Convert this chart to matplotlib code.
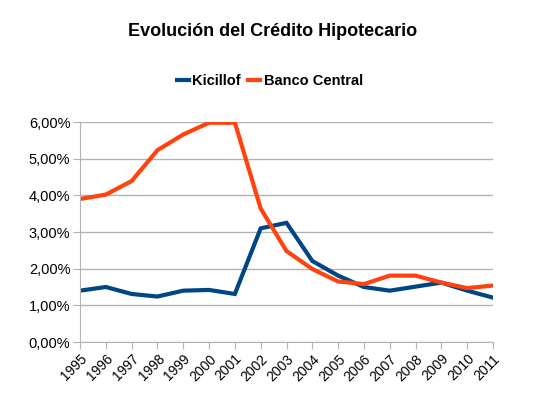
import matplotlib
matplotlib.use("Agg")
from matplotlib import pyplot as plt
from matplotlib.ticker import FuncFormatter

# Datos.
years = list(range(1995, 2012))
kicillof = [1.40, 1.50, 1.31, 1.24, 1.40, 1.42, 1.31, 3.10, 3.25, 2.21,
            1.81, 1.50, 1.40, 1.51, 1.62, 1.40, 1.21]
banco_central = [3.90, 4.02, 4.39, 5.23, 5.66, 5.98, 5.98, 3.64, 2.48, 1.99,
                 1.65, 1.58, 1.81, 1.81, 1.62, 1.47, 1.54]

plt.rcParams['font.family'] = ['Liberation Sans', 'DejaVu Sans']

fig = plt.figure(figsize=(5.45, 3.97), dpi=100)
ax = fig.add_axes([80 / 545, 1 - 342 / 397, 413 / 545, 220 / 397])

ax.plot(years, kicillof, c='#004586', lw=3, label='Kicillof', solid_joinstyle='miter')
ax.plot(years, banco_central, c='#ff420e', lw=3, label='Banco Central', solid_joinstyle='miter')

ax.set_xlim(1995, 2011)
ax.set_ylim(0, 6)
ax.set_xticks(years)
ax.set_xticklabels([str(y) for y in years], rotation=45, ha='right',
                   rotation_mode='anchor', fontsize=10)
ax.set_yticks(range(0, 7))
ax.yaxis.set_major_formatter(FuncFormatter(lambda v, p: f"{v:.2f}".replace('.', ',') + '%'))
ax.tick_params(axis='y', labelsize=10.5, length=5, color='#b3b3b3', pad=2)
ax.tick_params(axis='x', length=5, color='#b3b3b3', pad=2)

# Cuadrícula horizontal.
ax.grid(True, axis='y', color='#b3b3b3', lw=1)
ax.set_axisbelow(True)
for s in ['top', 'right']:
    ax.spines[s].set_visible(False)
for s in ['left', 'bottom']:
    ax.spines[s].set_color('#b3b3b3')

fig.text(0.5, 1 - 32 / 397, "Evolución del Crédito Hipotecario", ha='center',
         va='center', fontsize=13, fontweight='bold')
fig.legend(loc='center', bbox_to_anchor=(270 / 545, 1 - 81 / 397), ncol=2,
           frameon=False, prop={'weight': 'bold', 'size': 10.5},
           handlelength=0.8, handletextpad=0.25, columnspacing=0.5)

fig.savefig("out.png", dpi=100)
